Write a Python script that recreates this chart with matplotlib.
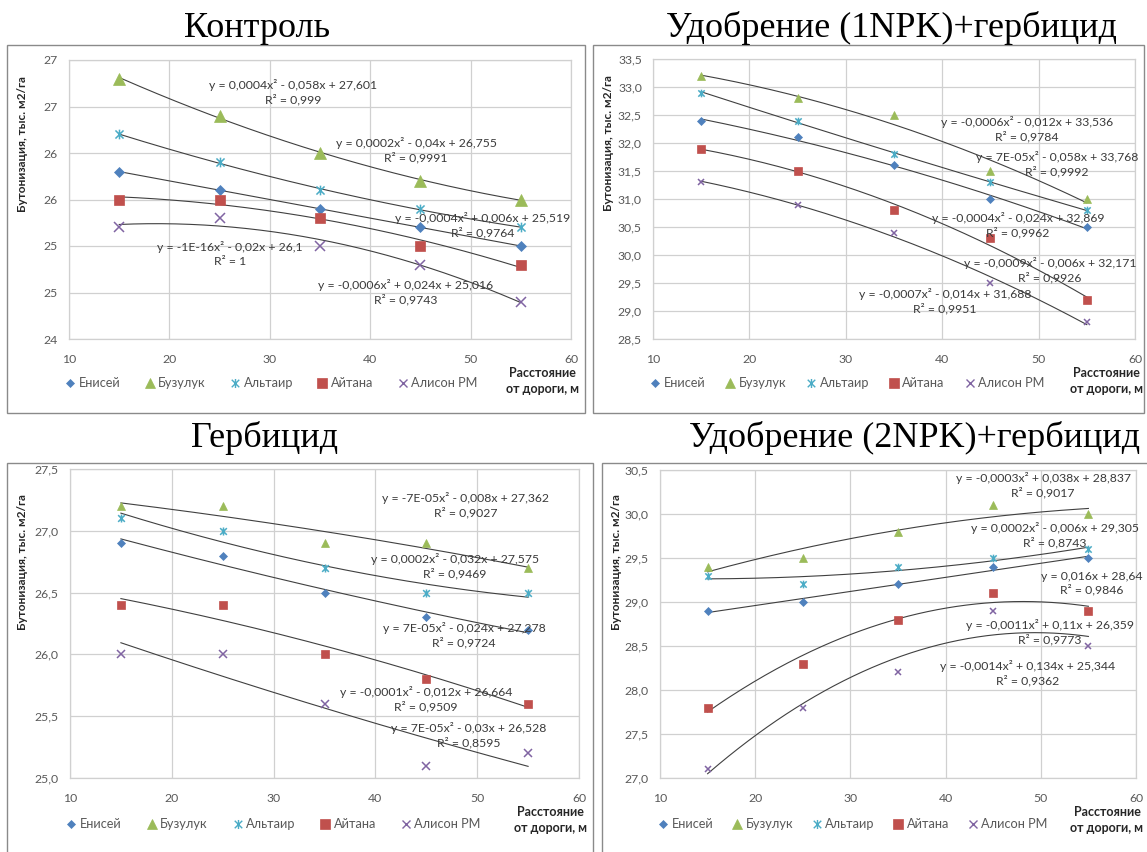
import math
import numpy as np
import matplotlib
matplotlib.use("Agg")
import matplotlib.pyplot as plt
from matplotlib.lines import Line2D
from matplotlib.path import Path
from matplotlib.patches import Rectangle
from matplotlib.ticker import FixedLocator, FuncFormatter

plt.rcParams["font.family"] = ["Lato", "Noto Sans", "DejaVu Sans"]

W, H = 1147, 852

# ---- data -------------------------------------------------------------
distance = [15, 25, 35, 45, 55]
varieties = ["Енисей", "Бузулук", "Альтаир", "Айтана", "Алисон РМ"]

# Контроль
control_enisei = [25.8, 25.6, 25.4, 25.2, 25.0]
control_buzuluk = [26.8, 26.4, 26.0, 25.7, 25.5]
control_altair = [26.2, 25.9, 25.6, 25.4, 25.2]
control_aitana = [25.5, 25.5, 25.3, 25.0, 24.8]
control_alison = [25.2, 25.3, 25.0, 24.8, 24.4]

# Удобрение (1NPK)+гербицид
npk1_enisei = [32.4, 32.1, 31.6, 31.0, 30.5]
npk1_buzuluk = [33.2, 32.8, 32.5, 31.5, 31.0]
npk1_altair = [32.9, 32.4, 31.8, 31.3, 30.8]
npk1_aitana = [31.9, 31.5, 30.8, 30.3, 29.2]
npk1_alison = [31.3, 30.9, 30.4, 29.5, 28.8]

# Гербицид
herb_enisei = [26.9, 26.8, 26.5, 26.3, 26.2]
herb_buzuluk = [27.2, 27.2, 26.9, 26.9, 26.7]
herb_altair = [27.1, 27.0, 26.7, 26.5, 26.5]
herb_aitana = [26.4, 26.4, 26.0, 25.8, 25.6]
herb_alison = [26.0, 26.0, 25.6, 25.1, 25.2]

# Удобрение (2NPK)+гербицид
npk2_enisei = [28.9, 29.0, 29.2, 29.4, 29.5]
npk2_buzuluk = [29.4, 29.5, 29.8, 30.1, 30.0]
npk2_altair = [29.3, 29.2, 29.4, 29.5, 29.6]
npk2_aitana = [27.8, 28.3, 28.8, 29.1, 28.9]
npk2_alison = [27.1, 27.8, 28.2, 28.9, 28.5]

# trendline equations (order: Енисей, Бузулук, Альтаир, Айтана, Алисон РМ)
control_eq = [
    "y = -1E-16x² - 0,02x + 26,1\nR² = 1",
    "y = 0,0004x² - 0,058x + 27,601\nR² = 0,999",
    "y = 0,0002x² - 0,04x + 26,755\nR² = 0,9991",
    "y = -0,0004x² + 0,006x + 25,519\nR² = 0,9764",
    "y = -0,0006x² + 0,024x + 25,016\nR² = 0,9743",
]
npk1_eq = [
    "y = -0,0004x² - 0,024x + 32,869\nR² = 0,9962",
    "y = -0,0006x² - 0,012x + 33,536\nR² = 0,9784",
    "y = 7E-05x² - 0,058x + 33,768\nR² = 0,9992",
    "y = -0,0009x² - 0,006x + 32,171\nR² = 0,9926",
    "y = -0,0007x² - 0,014x + 31,688\nR² = 0,9951",
]
herb_eq = [
    "y = 7E-05x² - 0,024x + 27,278\nR² = 0,9724",
    "y = -7E-05x² - 0,008x + 27,362\nR² = 0,9027",
    "y = 0,0002x² - 0,032x + 27,575\nR² = 0,9469",
    "y = -0,0001x² - 0,012x + 26,664\nR² = 0,9509",
    "y = 7E-05x² - 0,03x + 26,528\nR² = 0,8595",
]
npk2_eq = [
    "y = 0,016x + 28,64\nR² = 0,9846",
    "y = -0,0003x² + 0,038x + 28,837\nR² = 0,9017",
    "y = 0,0002x² - 0,006x + 29,305\nR² = 0,8743",
    "y = -0,0011x² + 0,11x + 26,359\nR² = 0,9773",
    "y = -0,0014x² + 0,134x + 25,344\nR² = 0,9362",
]

x_ticks = [10, 20, 30, 40, 50, 60]

# ---- styling ----------------------------------------------------------
star = Path(
    [(-1, -1), (1, 1), (-1, 1), (1, -1), (0, -1.2), (0, 1.2)],
    [Path.MOVETO, Path.LINETO, Path.MOVETO, Path.LINETO, Path.MOVETO, Path.LINETO],
)
colors = ["#4F81BD", "#9BBB59", "#4BACC6", "#C0504D", "#8064A2"]
markers = ["D", "^", star, "s", "x"]
open_marker = [False, False, True, False, True]

TICK_C = "#595959"
GRID_C = "#D0D0D0"
TEXT_C = "#3A3A3A"


def fx(px):
    return px / W


def fy(py):
    return 1 - py / H


def rect(l, t, r, b):
    return [l / W, 1 - b / H, (r - l) / W, (b - t) / H]


def half_up_int(v, pos):
    return str(int(math.floor(v + 0.5)))


def comma1(v, pos):
    return f"{v:.1f}".replace(".", ",")


fig = plt.figure(figsize=(W / 100, H / 100), dpi=100)

# chart frames
for (l, t, r, b) in [(7, 45, 585, 413), (593, 45, 1144, 413),
                     (7, 463, 593, 880), (602, 463, 1170, 880)]:
    fig.add_artist(Rectangle((fx(l), fy(b)), (r - l) / W, (b - t) / H,
                             transform=fig.transFigure, fill=False,
                             ec="#8A8A8A", lw=1.0))

panels = [
    dict(title="Контроль", title_xy=(257, 37), box=(69, 60, 571, 339),
         ylim=(24, 27), fmt=half_up_int,
         series=[control_enisei, control_buzuluk, control_altair,
                 control_aitana, control_alison],
         eqs=control_eq,
         eq_xy=[(230, 254), (293, 92), (416, 150), (483, 225), (406, 292)],
         ylab_x=22, legend_xy=(66, 383), colsp=1.95,
         sizes=[5.0, 8.0, 7.0, 7.5, 7.0]),
    dict(title="Удобрение (1NPK)+гербицид", title_xy=(892, 37),
         box=(653, 59, 1135, 339), ylim=(28.5, 33.5), fmt=comma1,
         series=[npk1_enisei, npk1_buzuluk, npk1_altair, npk1_aitana,
                 npk1_alison],
         eqs=npk1_eq,
         eq_xy=[(1018, 225), (1027, 129), (1057, 164), (1050, 270),
                (945, 301)],
         ylab_x=609, legend_xy=(651, 383), colsp=1.6,
         sizes=[3.6, 5.5, 5.5, 5.8, 5.0]),
    dict(title="Гербицид", title_xy=(265, 447), box=(70, 469, 579, 778),
         ylim=(25.0, 27.5), fmt=comma1,
         series=[herb_enisei, herb_buzuluk, herb_altair, herb_aitana,
                 herb_alison],
         eqs=herb_eq,
         eq_xy=[(464, 635), (466, 505), (455, 566), (426, 699), (469, 735)],
         ylab_x=23, legend_xy=(67, 824), colsp=2.0,
         sizes=[3.8, 5.8, 5.8, 6.0, 5.2]),
    dict(title="Удобрение (2NPK)+гербицид", title_xy=(915, 447),
         box=(660, 470, 1136, 778), ylim=(27.0, 30.5), fmt=comma1,
         series=[npk2_enisei, npk2_buzuluk, npk2_altair, npk2_aitana,
                 npk2_alison],
         eqs=npk2_eq,
         eq_xy=[(1092, 583), (1043, 485), (1055, 535), (1050, 632),
                (1028, 673)],
         ylab_x=617, legend_xy=(659, 824), colsp=1.5,
         sizes=[3.6, 5.5, 5.5, 5.8, 5.0]),
]

xfit = np.linspace(distance[0], distance[-1], 200)

for p in panels:
    l, t, r, b = p["box"]
    ax = fig.add_axes(rect(l, t, r, b))
    y0, y1 = p["ylim"]
    ax.set_xlim(10, 60)
    ax.set_ylim(y0, y1)
    ax.xaxis.set_major_locator(FixedLocator(x_ticks))
    ax.yaxis.set_major_locator(FixedLocator(np.arange(y0, y1 + 0.01, 0.5)))
    ax.yaxis.set_major_formatter(FuncFormatter(p["fmt"]))
    ax.xaxis.set_major_formatter(FuncFormatter(lambda v, pos: f"{v:.0f}"))
    ax.tick_params(axis="both", length=0, labelsize=8.8, labelcolor=TICK_C)
    ax.tick_params(axis="y", pad=8)
    ax.tick_params(axis="x", pad=11)
    ax.grid(True, color=GRID_C, lw=0.9)
    ax.set_axisbelow(True)
    for s in ax.spines.values():
        s.set_color(GRID_C)
        s.set_linewidth(0.9)

    for vals, col, mk, hollow, ms in zip(p["series"], colors, markers,
                                         open_marker, p["sizes"]):
        coef = np.polyfit(distance, vals, 2)
        ax.plot(xfit, np.polyval(coef, xfit), color="#404040", lw=0.8,
                zorder=2)
        if hollow:
            ax.plot(distance, vals, linestyle="none", marker=mk, ms=ms,
                    mec=col, mfc="none", mew=1.1, zorder=3)
        else:
            ax.plot(distance, vals, linestyle="none", marker=mk, ms=ms,
                    mec=col, mfc=col, mew=0.5, zorder=3)

    for eq, (ex, ey) in zip(p["eqs"], p["eq_xy"]):
        fig.text(fx(ex), fy(ey), eq, ha="center", va="center", fontsize=8.8,
                 color=TEXT_C, linespacing=1.25)

    # chart title
    fig.text(fx(p["title_xy"][0]), fy(p["title_xy"][1]), p["title"],
             family="Liberation Serif", fontsize=26, ha="center",
             va="baseline", color="black")

    # axis titles
    fig.text(fx(p["ylab_x"]), fy(t + 0.30 * (b - t)),
             "Бутонизация, тыс. м2/га", rotation=90, ha="center",
             va="center", fontsize=8.6, fontweight="bold", color="#262626")
    fig.text(fx(r - 29), fy(b + 42), "Расстояние\nот дороги, м", ha="center",
             va="center", fontsize=9, fontweight="bold", color="#262626",
             linespacing=1.35)

    # legend
    handles = []
    for col, mk, hollow, ms in zip(colors, markers, open_marker,
                                   [3.6, 6.5, 6.5, 6.5, 6.0]):
        handles.append(Line2D([], [], linestyle="none", marker=mk, ms=ms,
                              mec=col, mfc="none" if hollow else col,
                              mew=1.0 if hollow else 0.5))
    lx, ly = p["legend_xy"]
    ax.legend(handles, varieties, ncol=5, loc="center left",
              bbox_to_anchor=(fx(lx), fy(ly)), bbox_transform=fig.transFigure,
              frameon=False, borderpad=0, borderaxespad=0, handlelength=0.7,
              handletextpad=0.3, columnspacing=p["colsp"], fontsize=9.2,
              labelcolor=TICK_C)

fig.savefig("out.png", dpi=100)
